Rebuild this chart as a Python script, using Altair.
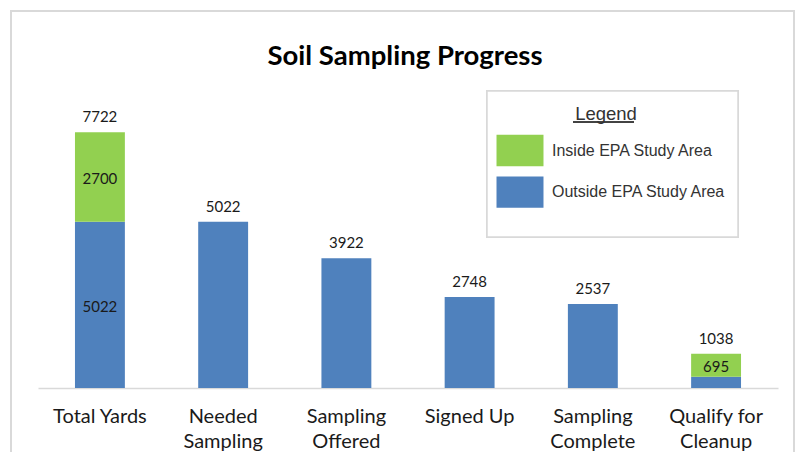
import altair as alt
import pandas as pd

categories = ["Total Yards", "Needed Sampling", "Sampling Offered", "Signed Up",
              "Sampling Complete", "Qualify for Cleanup"]
label_lines = [["Total Yards"], ["Needed", "Sampling"], ["Sampling", "Offered"],
               ["Signed Up"], ["Sampling", "Complete"], ["Qualify for", "Cleanup"]]
outside = [5022, 5022, 3922, 2748, 2537, 343]
inside = [2700, 0, 0, 0, 0, 695]
totals = [7722, 5022, 3922, 2748, 2537, 1038]
show_outside_label = [True, False, False, False, False, False]

S_IN = "Inside EPA Study Area"
S_OUT = "Outside EPA Study Area"
GREEN = "#92D050"
BLUE = "#4F81BD"

rows = []
seg_labels = []
for c, o, i, so in zip(categories, outside, inside, show_outside_label):
    rows.append({"cat": c, "series": S_OUT, "value": o, "ord": 0})
    rows.append({"cat": c, "series": S_IN, "value": i, "ord": 1})
    if so:
        seg_labels.append({"cat": c, "mid": o / 2, "txt": str(o)})
    if i > 0:
        seg_labels.append({"cat": c, "mid": o + i / 2, "txt": str(i)})
bars_df = pd.DataFrame(rows)
seg_df = pd.DataFrame(seg_labels)
tot_df = pd.DataFrame({"cat": categories, "total": totals})

# label expression for multi-line axis labels
expr_parts = []
for c, lines in zip(categories, label_lines):
    arr = "[" + ",".join("'" + l + "'" for l in lines) + "]"
    expr_parts.append(f"datum.label == '{c}' ? {arr} : ")
label_expr = "".join(expr_parts) + "datum.label"

FONT = "Lato"
x_enc = alt.X("cat:N", sort=categories, title=None,
              scale=alt.Scale(paddingInner=0.595, paddingOuter=0.3),
              axis=alt.Axis(labelAngle=0, ticks=False, domainColor="#d9d9d9",
                            domainWidth=1.5, labelPadding=18, labelFontSize=20,
                            labelFont=FONT, labelColor="#1a1a1a", labelLineHeight=25,
                            labelExpr=label_expr, labelBaseline="top"))
y_scale = alt.Scale(domain=[0, 9000])

border = alt.Chart(tot_df).mark_rect(
    fillOpacity=0, stroke="#d9d9d9", strokeWidth=2, clip=False
).encode(x=alt.value(-27), x2=alt.value(756), y=alt.value(-79), y2=alt.value(400))

legend_box = alt.Chart(tot_df).mark_rect(
    fill="white", stroke="#d9d9d9", strokeWidth=1.5, clip=False
).encode(x=alt.value(449), x2=alt.value(700), y=alt.value(1), y2=alt.value(147))

legend_underline = alt.Chart(tot_df).mark_rule(
    color="#404040", strokeWidth=1
).encode(x=alt.value(535), x2=alt.value(596), y=alt.value(32))

bars = alt.Chart(bars_df).mark_bar().encode(
    x=x_enc,
    y=alt.Y("value:Q", stack="zero", scale=y_scale, axis=None),
    color=alt.Color("series:N",
                    scale=alt.Scale(domain=[S_IN, S_OUT], range=[GREEN, BLUE]),
                    legend=alt.Legend(
                        title="Legend", orient="none", legendX=433, legendY=1,
                        titleFont="Liberation Sans", titleFontSize=18.5,
                        titleFontWeight="normal", titleColor="#333333",
                        titleAnchor="middle", titleLimit=300,
                        labelFont="Liberation Sans", labelFontSize=16,
                        labelColor="#333333", labelLimit=300,
                        symbolType="M-1.5,-1H1.5V1H-1.5Z",
                        symbolSize=981, symbolStrokeWidth=0, symbolOpacity=1,
                        padding=14, symbolOffset=19, labelOffset=16,
                        titlePadding=11, rowPadding=9.7,
                        strokeColor="transparent")),
    order=alt.Order("ord:Q", sort="ascending"),
)

tot_text = alt.Chart(tot_df).mark_text(
    baseline="alphabetic", dy=-10, font=FONT, fontSize=15, color="#1a1a1a"
).encode(x=alt.X("cat:N", sort=categories),
         y=alt.Y("total:Q", scale=y_scale, axis=None),
         text="total:Q")

seg_text = alt.Chart(seg_df).mark_text(
    baseline="middle", dy=2, font=FONT, fontSize=15, color="#1a1a1a"
).encode(x=alt.X("cat:N", sort=categories),
         y=alt.Y("mid:Q", scale=y_scale, axis=None),
         text="txt:N")

chart = alt.layer(border, legend_box, legend_underline, bars, tot_text, seg_text).properties(
    width=740, height=298,
    title=alt.TitleParams("Soil Sampling Progress", font=FONT, fontSize=27.5,
                          fontWeight="bold", color="#000000", anchor="middle",
                          frame="group", dx=-3, offset=-60),
    autosize=alt.AutoSizeParams(type="none"),
    padding={"left": 30, "top": 82, "right": 18, "bottom": 64},
).configure(
    background="white",
    view=alt.ViewConfig(stroke="transparent", strokeWidth=0),
)

chart.save("out.html", embed_options={"renderer": "svg", "actions": False})
